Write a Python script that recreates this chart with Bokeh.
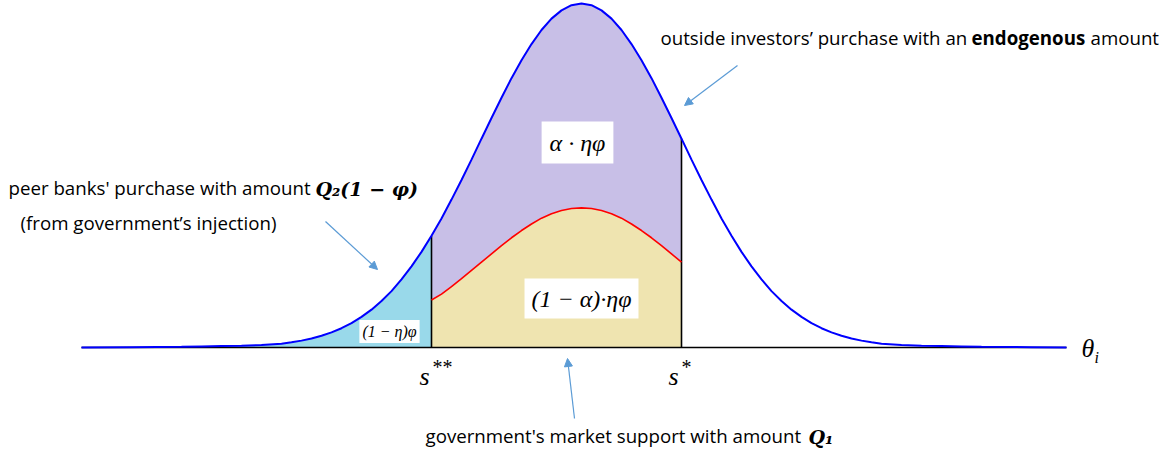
from bokeh.plotting import figure
from bokeh.models import Range1d, Label, Arrow, NormalHead
from bokeh.embed import file_html
from bokeh.resources import INLINE

# ---- data ----
theta = [-5.0, -4.5, -4.0, -3.8, -3.6, -3.4, -3.2, -3.0,
         -2.9, -2.8, -2.7, -2.6, -2.5, -2.4, -2.3, -2.2, -2.1, -2.0,
         -1.9, -1.8, -1.7, -1.6, -1.5, -1.4, -1.3, -1.2, -1.1, -1.0,
         -0.9, -0.8, -0.7, -0.6, -0.5, -0.4, -0.3, -0.2, -0.1, 0.0,
         0.1, 0.2, 0.3, 0.4, 0.5, 0.6, 0.7, 0.8, 0.9, 1.0,
         1.1, 1.2, 1.3, 1.4, 1.5, 1.6, 1.7, 1.8, 1.9, 2.0,
         2.1, 2.2, 2.3, 2.4, 2.5, 2.6, 2.7, 2.8, 2.9,
         3.0, 3.2, 3.4, 3.6, 3.8, 4.0, 4.5, 4.85]
density = [0.000, 0.001, 0.002, 0.003, 0.004, 0.005, 0.007, 0.011,
           0.015, 0.020, 0.026, 0.034, 0.044, 0.056, 0.071, 0.089, 0.110, 0.135,
           0.164, 0.198, 0.236, 0.278, 0.325, 0.375, 0.430, 0.487, 0.546, 0.607,
           0.667, 0.726, 0.783, 0.835, 0.882, 0.923, 0.956, 0.980, 0.995, 1.000,
           0.995, 0.980, 0.956, 0.923, 0.882, 0.835, 0.783, 0.726, 0.667, 0.607,
           0.546, 0.487, 0.430, 0.375, 0.325, 0.278, 0.236, 0.198, 0.164, 0.135,
           0.110, 0.089, 0.071, 0.056, 0.044, 0.034, 0.026, 0.020, 0.015,
           0.011, 0.007, 0.005, 0.004, 0.003, 0.002, 0.001, 0.000]

theta_mid = [-1.5, -1.4, -1.3, -1.2, -1.1, -1.0, -0.9, -0.8, -0.7, -0.6, -0.5,
             -0.4, -0.3, -0.2, -0.1, 0.0, 0.1, 0.2, 0.3, 0.4, 0.5, 0.6, 0.7,
             0.8, 0.9, 1.0]
support_curve = [0.138, 0.155, 0.177, 0.200, 0.224, 0.248, 0.272, 0.296, 0.319,
                 0.340, 0.359, 0.376, 0.389, 0.398, 0.404, 0.406, 0.404, 0.398,
                 0.389, 0.376, 0.359, 0.340, 0.319, 0.296, 0.272, 0.248]

s_low = -1.5    # s**
s_high = 1.0    # s*

# ---- layout helpers (reference pixel -> data) ----
def X(px):
    return (px - 581) / 100.0

def Y(py):
    return (347 - py) / 344.0

W, H = 1169, 452
p = figure(width=W, height=H, output_backend="svg", toolbar_location=None,
           x_range=Range1d(X(0), X(W)), y_range=Range1d(Y(H), Y(0)),
           min_border=0, min_border_left=0, min_border_right=0,
           min_border_top=0, min_border_bottom=0)
p.axis.visible = False
p.grid.visible = False
p.outline_line_color = None
p.background_fill_color = "white"
p.border_fill_color = "white"

i_low = theta.index(s_low)
i_high = theta.index(s_high)

# fills
p.varea(x=theta[:i_low + 1], y1=[0] * (i_low + 1), y2=density[:i_low + 1],
        fill_color="#99D9EA")
p.varea(x=theta_mid, y1=[0] * len(theta_mid), y2=support_curve,
        fill_color="#EFE4B0")
p.varea(x=theta_mid, y1=support_curve, y2=density[i_low:i_high + 1],
        fill_color="#C8BFE7")

# baseline
p.line([theta[0], theta[-1]], [0, 0], line_color="black", line_width=1.5)
# vertical cut-offs
p.segment(x0=[s_low, s_high], y0=[0, 0], x1=[s_low, s_high],
          y1=[density[i_low], density[i_high]], line_color="black", line_width=1.6)
# curves
p.line(theta, density, line_color="#0000FF", line_width=2)
p.line(theta_mid, support_curve, line_color="#FF0000", line_width=1.6)

SANS = "Open Sans"
SERIF = "Liberation Serif"
FS = "18.7px"

def lab(px, py, text, font=SANS, size=FS, style="normal", align="left",
        color="black", bg=None, pad=0):
    kw = {}
    if bg is not None:
        kw["background_fill_color"] = bg
        kw["padding"] = pad
    p.add_layout(Label(x=X(px), y=Y(py), text=text, text_font=font,
                       text_font_size=size, text_font_style=style,
                       text_align=align, text_baseline="middle",
                       text_color=color, **kw))

# top-right annotation
lab(660, 37, "outside investors\u2019 purchase with an")
lab(971, 37, "endogenous", style="bold")
lab(1090, 37, "amount")

# left annotation
lab(8, 187, "peer banks' purchase with amount")
lab(315, 188, "Q\u2082(1 \u2212 \u03c6)", font="DejaVu Serif", size="19px",
    style="bold italic")
lab(20, 222, "(from government\u2019s injection)")

# bottom annotation
lab(425, 435, "government's market support with amount")
lab(808, 436, "Q\u2081", font="DejaVu Serif", size="19px", style="bold italic")

# boxed area labels
lab(577, 142, "\u03b1 \u00b7 \u03b7\u03c6", font=SERIF, size="24px", style="italic",
    align="center", bg="white", pad=8)
lab(581, 298, "(1 \u2212 \u03b1)\u00b7\u03b7\u03c6", font=SERIF, size="24px",
    style="italic", align="center", bg="white", pad=7)
lab(389, 331, "(1 \u2212 \u03b7)\u03c6", font=SERIF, size="16px", style="italic",
    align="center", bg="white", pad=3)

# axis symbols
lab(419, 376, "s", font=SERIF, size="26px", style="italic")
lab(432, 366, "**", font=SERIF, size="20px")
lab(668, 376, "s", font=SERIF, size="26px", style="italic")
lab(681, 366, "*", font=SERIF, size="20px")
lab(1081, 348, "\u03b8", font=SERIF, size="26px", style="italic")
lab(1094, 357, "i", font=SERIF, size="16px", style="italic")

# arrows
AC = "#5B9BD5"
for (x0, y0, x1, y1) in [(325, 221, 377, 269), (737, 65, 684, 105),
                         (574, 418, 567, 358)]:
    p.add_layout(Arrow(end=NormalHead(size=8, fill_color=AC, line_color=AC,
                                      line_width=1),
                       x_start=X(x0), y_start=Y(y0), x_end=X(x1), y_end=Y(y1),
                       line_color=AC, line_width=1.2))

open("out.html", "w").write(file_html(p, INLINE))
